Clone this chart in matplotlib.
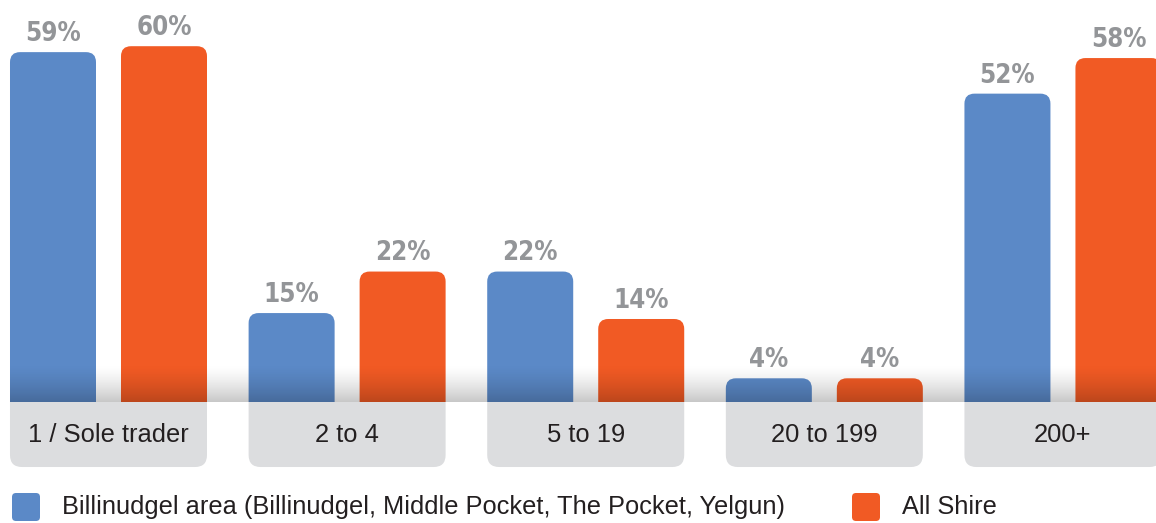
import numpy as np
import matplotlib
matplotlib.use("Agg")
import matplotlib.pyplot as plt
from matplotlib import font_manager
from matplotlib.patches import FancyBboxPatch, Rectangle

categories = ["1 / Sole trader", "2 to 4", "5 to 19", "20 to 199", "200+"]
billinudgel = [59, 15, 22, 4, 52]
all_shire = [60, 22, 14, 4, 58]
series_names = ["Billinudgel area (Billinudgel, Middle Pocket, The Pocket, Yelgun)",
                "All Shire"]

BLUE = "#5b89c7"
ORANGE = "#f15a24"
BOX_GREY = "#dcdddf"
PCT_GREY = "#939598"
TEXT = "#231f20"

plt.rcParams["font.family"] = ["Liberation Sans", "DejaVu Sans"]

# narrow bold face for the percentages, if one is installed
pct_font = {"family": "Liberation Sans", "size": 19}
for f in font_manager.fontManager.ttflist:
    if f.name == "Liberation Sans Narrow" and f.weight in (700, "bold"):
        pct_font = {"family": "Liberation Sans Narrow", "size": 21}
        break
    if f.name == "DejaVu Sans" and f.stretch == "condensed" and f.weight in (700, "bold"):
        pct_font = {"family": "DejaVu Sans", "stretch": "condensed", "size": 18.5}

W, H, DPI = 11.56, 5.23, 100
fig = plt.figure(figsize=(W, H), dpi=DPI)
ax = fig.add_axes([0, 0, 1, 1])
XLIM = (-0.4547, 4.390)
YLIM = (-20.40, 67.79)
ax.set_xlim(*XLIM)
ax.set_ylim(*YLIM)
ax.axis("off")

# pixels per data unit, used to keep rounded corners circular
px_x = W * DPI / (XLIM[1] - XLIM[0])
px_y = H * DPI / (YLIM[1] - YLIM[0])
aspect = px_x / px_y

bar_w = 86 / px_x
offset = 55.5 / px_x
box_w = 197 / px_x
box_h = 65 / px_y
bar_r = 10 / px_x
box_r = 12 / px_x

above = Rectangle((-1, 0), 10, 200, transform=ax.transData)
below = Rectangle((-1, -100), 10, 100, transform=ax.transData)

x = np.arange(len(categories))
for vals, color, sign in [(billinudgel, BLUE, -1), (all_shire, ORANGE, 1)]:
    for xi, v in zip(x, vals):
        cx = xi + sign * offset
        bar = FancyBboxPatch((cx - bar_w / 2, -5), bar_w, v + 5,
                             boxstyle=f"round,pad=0,rounding_size={bar_r}",
                             mutation_aspect=aspect, fc=color, ec="none", zorder=2)
        ax.add_patch(bar)
        bar.set_clip_path(above)
        ax.annotate(f"{v}%", (cx, v), xytext=(0, 8), textcoords="offset points",
                    ha="center", va="baseline", fontweight="bold",
                    color=PCT_GREY, **pct_font)

# grey category tabs under each pair of bars
for xi, name in zip(x, categories):
    box = FancyBboxPatch((xi - box_w / 2, -box_h), box_w, box_h + 5,
                         boxstyle=f"round,pad=0,rounding_size={box_r}",
                         mutation_aspect=aspect, fc=BOX_GREY, ec="none", zorder=2)
    ax.add_patch(box)
    box.set_clip_path(below)
    ax.text(xi, -box_h / 2, name, ha="center", va="center", fontsize=18.4,
            color=TEXT, zorder=4)

# soft shadow along the baseline, fading in towards the bottom
t = np.linspace(0, 1, 64) ** 1.4
shade = np.zeros((64, 1, 4))
shade[..., 3] = (0.22 * t)[:, None]
ax.imshow(shade, extent=(x[0] - box_w / 2, XLIM[1], 0, 38 / px_y), origin="upper",
          aspect="auto", interpolation="bilinear", zorder=3)
ax.set_xlim(*XLIM)
ax.set_ylim(*YLIM)

# legend along the bottom edge, in inches
for (lx, tx), name, color in zip([(0.12, 0.62), (8.52, 9.02)], series_names, [BLUE, ORANGE]):
    sq = FancyBboxPatch((lx, 0.02), 0.28, 0.28, boxstyle="round,pad=0,rounding_size=0.04",
                        transform=fig.dpi_scale_trans, fc=color, ec="none")
    fig.patches.append(sq)
    fig.text(tx / W, 0.16 / H, name, ha="left", va="center", fontsize=18.3, color=TEXT)

fig.savefig("out.png", dpi=DPI)
